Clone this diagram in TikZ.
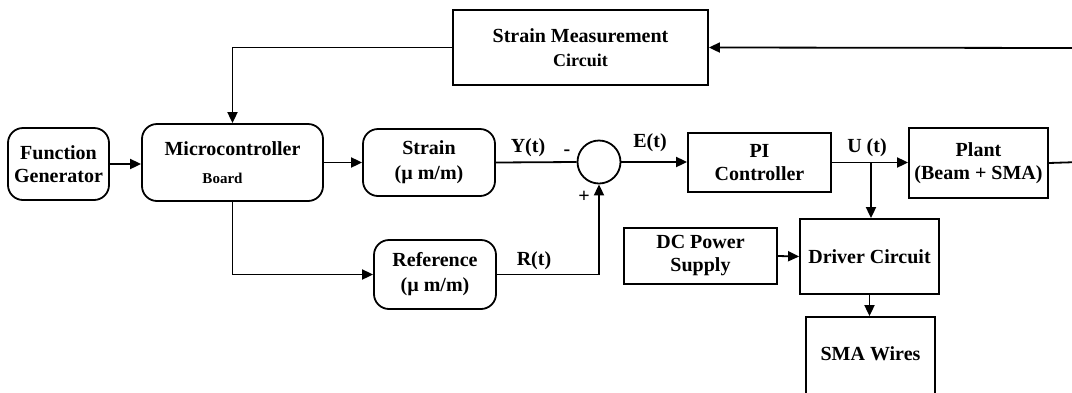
\documentclass[tikz,border=0pt]{standalone}
\usepackage{fontspec}
\setmainfont{Liberation Serif}
\usetikzlibrary{arrows.meta}
\begin{document}
\begin{tikzpicture}[x=1pt,y=-1pt,
  blk/.style={draw, line width=1.8pt, inner sep=0pt, align=center,
    font=\fontsize{20}{25}\selectfont\bfseries},
  rblk/.style={blk, rounded corners=15pt},
  arr/.style={-{Triangle[length=11pt,width=10pt]}, line width=1.8pt},
  wire/.style={line width=1.8pt},
  lbl/.style={font=\fontsize{20}{24}\selectfont\bfseries, inner sep=0pt}]
\clip (0,0) rectangle (1072,392);
\useasboundingbox (0,0) rectangle (1072,392);
% blocks
\node[blk, minimum width=255pt, minimum height=75pt] (smc) at (580.5,47.5)
  {Strain Measurement\\[-1pt]{\fontsize{18}{22}\selectfont Circuit}};
\node[rblk, minimum width=101pt, minimum height=72pt] (fgen) at (58.5,164) {Function\\[-2pt]Generator};
\node[rblk, minimum width=181pt, minimum height=77pt] (mcu) at (232.5,162.5)
  {Microcontroller\\[3pt]\hspace*{-20pt}{\fontsize{15}{18}\selectfont Board}};
\node[rblk, minimum width=132pt, minimum height=67pt] (strain) at (429,162.5) {Strain\\(µ m/m)};
\node[rblk, minimum width=122pt, minimum height=69pt] (ref) at (435,274.5) {Reference\\(µ m/m)};
\node[draw, circle, line width=1.8pt, minimum size=43pt, inner sep=0pt] (sum) at (599,162) {};
\node[blk, minimum width=143pt, minimum height=59pt] (pic) at (759.5,162.5) {PI\\[-2pt]Controller};
\node[blk, minimum width=139pt, minimum height=70pt] (plant) at (978.5,163) {Plant\\[-2pt](Beam + SMA)};
\node[blk, minimum width=153pt, minimum height=56pt] (dcps) at (700.5,256) {DC Power\\[-2pt]Supply};
\node[blk, minimum width=139pt, minimum height=75pt] (drv) at (869.5,256.5) {Driver Circuit};
\node[blk, minimum width=129pt, minimum height=90pt] (sma) at (870.5,362) {};
\node[lbl] (smat) at (870.5,354) {SMA Wires};
% signal labels
\node[lbl] (yt) at (528,148) {Y(t)};
\node[lbl] (minus) at (567,153) {-};
\node[lbl] (plus) at (584,197) {+};
\node[lbl] (rt) at (534,261) {R(t)};
\node[lbl] (et) at (650,143) {E(t)};
\node[lbl] (ut) at (867,148) {U (t)};
% connectors
\coordinate (br) at (871,162);
\coordinate (fbb) at (1080,162);
\coordinate (fbt) at (1080,48);
\draw[arr] (fgen.east) -- (fgen.east -| mcu.west);
\draw[arr] (mcu.east) -- (strain.west);
\draw[wire] (strain.east) -- (sum.west);
\draw[arr] (mcu.south) |- (ref.west);
\draw[arr] (ref.east) -| (sum.south);
\draw[arr] (sum.east) -- (sum.east -| pic.west);
\draw[arr] (pic.east) -- (pic.east -| plant.west);
\draw[arr] (br) -- (br |- drv.north);
\draw[arr] (dcps.east) -- (drv.west);
\draw[arr] (drv.south) -- (sma.north -| drv.south);
\draw[arr] (plant.east) -- (fbb) -- (fbt) -- (smc.east);
\draw[arr] (smc.west) -| (mcu.north);
\end{tikzpicture}
\end{document}
